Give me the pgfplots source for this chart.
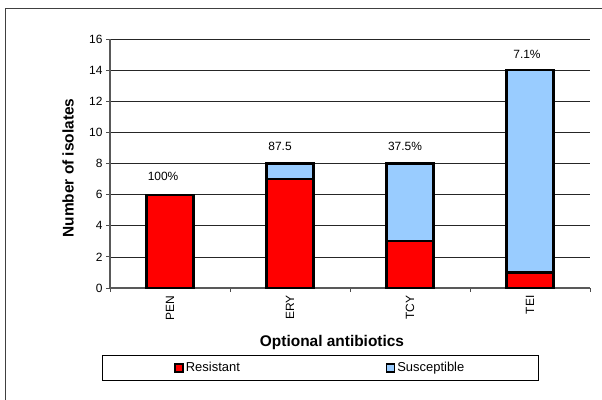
\documentclass[border=0pt]{standalone}
\usepackage{pgfplots}
\pgfplotsset{compat=1.18}
\usepackage{fontspec}
\setmainfont{Liberation Sans}
\definecolor{resred}{RGB}{255,0,0}
\definecolor{susblue}{RGB}{153,204,255}
\begin{document}
\begin{tikzpicture}
\path[use as bounding box] (0bp,0bp) rectangle (602bp,-400bp);
\draw[line width=1bp, black!75] (5.5bp,-400bp) -- (5.5bp,-8.5bp) -- (602bp,-8.5bp);
\begin{axis}[
  at={(110bp,-288bp)}, anchor=south west,
  scale only axis, width=480bp, height=249bp,
  ybar stacked, bar width=47bp,
  xmin=-0.5, xmax=3.5, ymin=0, ymax=16,
  ytick={0,2,...,16},
  xtick={0,1,2,3}, xticklabels={PEN,ERY,TCY,TEI},
  minor xtick={-0.5,0.5,1.5,2.5,3.5},
  xtick style={draw=none},
  minor x tick style={draw=black!70, line width=0.8bp},
  major y tick style={black!70, line width=0.8bp},
  tick align=outside,
  major tick length=4bp, minor tick length=4bp,
  axis x line*=bottom, axis y line*=left,
  axis line style={-, black!65, line width=1.2bp},
  ymajorgrids=true,
  grid style={black!85, line width=0.7bp},
  ticklabel style={font=\fontsize{12}{14}\selectfont},
  x tick label style={rotate=90, anchor=east},
  /pgf/number format/assume math mode=true,
  xlabel={Optional antibiotics},
  ylabel={Number of isolates},
  xlabel style={font=\bfseries\fontsize{15.5}{18}\selectfont, at={(axis description cs:0.4625,-0.217)}, anchor=center},
  ylabel style={font=\bfseries\fontsize{15.5}{18}\selectfont, at={(axis description cs:-0.0875,0.482)}, anchor=center, rotate=0},
  every axis plot/.append style={draw=black, line width=2.2bp},
  legend columns=2,
  legend image code/.code={\draw[#1, line width=1.5bp] (0bp,-4bp) rectangle (8bp,4bp);},
  legend style={at={(axis description cs:-0.0167,-0.269)}, anchor=north west,
    draw=black, line width=0.8bp, font=\fontsize{13}{15}\selectfont,
    inner xsep=72bp, inner ysep=5bp,
    /tikz/every even column/.append style={column sep=144bp}},
]
\addplot[fill=resred] coordinates {(0,6) (1,7) (2,3) (3,1)};
\addplot[fill=susblue] coordinates {(0,0) (1,1) (2,5) (3,13)};
\legend{Resistant,Susceptible}
\node[font=\fontsize{12}{14}\selectfont] at (axis cs:-0.058,7.2) {100\%};
\node[font=\fontsize{12}{14}\selectfont] at (axis cs:0.917,9.1) {87.5};
\node[font=\fontsize{12}{14}\selectfont] at (axis cs:1.958,9.1) {37.5\%};
\node[font=\fontsize{12}{14}\selectfont] at (axis cs:2.975,15.0) {7.1\%};
\end{axis}
\end{tikzpicture}
\end{document}
